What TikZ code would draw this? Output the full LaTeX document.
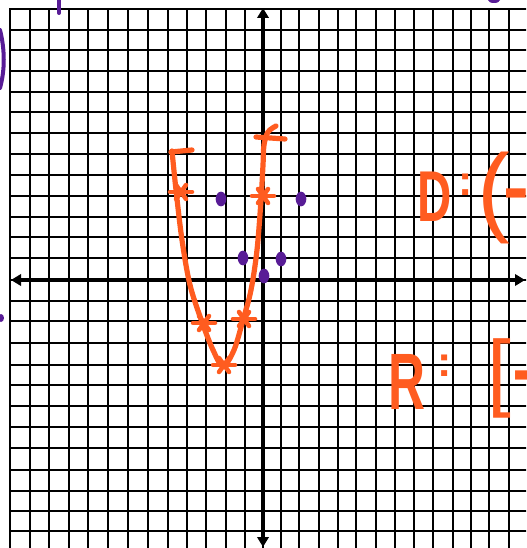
\documentclass[tikz,border=0pt]{standalone}
\usepackage{fontspec}
\usepackage{graphicx}
\setmainfont{Liberation Sans}
\usetikzlibrary{arrows.meta,shapes.geometric}
\definecolor{ink}{RGB}{255,92,32}
\definecolor{vio}{RGB}{88,28,150}
\begin{document}
\begin{tikzpicture}[x=0.75pt,y=-0.75pt,
  gridline/.style={line width=1.9pt,black,line cap=rect},
  axisline/.style={line width=3.2pt,black,{Triangle[length=7.5pt,width=8.5pt]}-{Triangle[length=7.5pt,width=8.5pt]}},
  curve/.style={ink,line width=3.9pt,line cap=round,line join=round},
  markstroke/.style={ink,line width=3.4pt,line cap=round},
  pdot/.style={ellipse,fill=vio,draw=none,inner sep=0pt,minimum width=8pt,minimum height=11pt},
  hand/.style={ink,inner sep=0pt,outer sep=0pt},
  edgeink/.style={vio,line width=3pt,line cap=round}]
\useasboundingbox (0,0) rectangle (526,548);
\fill[white] (0,0) rectangle (526,548);
\begin{scope}
\clip (0,0) rectangle (526,548);
% grid
\foreach \x in {10,30,49,69,88,108,128,148,168,187,206,226,245,263,281,299,319,338,356,376,395,414,433,453,471,489,509,528}
  \draw[gridline] (\x,9) -- (\x,560);
\foreach \y in {9,30,50,71,92,112,133,154,175,196,217,237,258,280,301,321,343,365,385,406,427,448,470,491,511,531,552}
  \draw[gridline] (10,\y) -- (540,\y);
% axes
\coordinate (ytop) at (263,8);
\coordinate (ybot) at (263,547);
\coordinate (xleft) at (11,280);
\coordinate (xright) at (525,280);
\draw[axisline] (ybot) -- (ytop);
\draw[axisline] (xleft) -- (xright);
% purple points
\node[pdot] (p1) at (221,199) {};
\node[pdot] (p2) at (301,199) {};
\node[pdot] (p3) at (243,258) {};
\node[pdot] (p4) at (281,259) {};
\node[pdot] (p5) at (264,276) {};
% parabola
\draw[curve] plot[smooth,tension=0.55] coordinates {(172,151) (176,190) (182,240) (190,285) (202,322) (213,350) (223,366) (234,350) (243,320) (251,290) (257,250) (261,200) (263,165) (264,145) (268,132) (276,126)};
\draw[curve] (171,152) -- (192,150);
\draw[curve] (256,137) -- (285,139);
% marks on the curve
\foreach \mx/\my in {181/192, 263/196, 204/323, 244/319, 224/365}{
  \draw[markstroke] (\mx-11,\my) -- (\mx+11,\my);
  \draw[markstroke] (\mx-5,\my-7) -- (\mx+5,\my+7);
  \draw[markstroke] (\mx+5,\my-7) -- (\mx-5,\my+7);
}
% domain and range text
\node[hand] (dD) at (435,197) {\fontsize{54}{54}\selectfont\bfseries\scalebox{0.66}[1]{D}};
\node[hand] (dC) at (466,185) {\fontsize{32}{32}\selectfont\bfseries :};
\node[hand] (dP) at (494,198) {\fontsize{74}{74}\selectfont (};
\node[hand,anchor=base west] (dM) at (503,214) {\fontsize{58}{58}\selectfont\bfseries -};
\node[hand] (rR) at (407,382) {\fontsize{60}{60}\selectfont\bfseries\scalebox{0.64}[1]{R}};
\node[hand] (rC) at (445,366) {\fontsize{32}{32}\selectfont\bfseries :};
\node[hand] (rB) at (499,378) {\fontsize{64}{64}\selectfont [};
\node[hand,anchor=base west] (rM) at (512,395) {\fontsize{58}{58}\selectfont\bfseries -};
% stray purple ink at the edges
\draw[edgeink] (59,0) -- (59,13);
\draw[edgeink] (0,30) .. controls (5,50) and (5,70) .. (0,88);
\fill[vio] (494,0) ellipse [x radius=6, y radius=3];
\fill[vio] (1,318) ellipse [x radius=3, y radius=4];
\end{scope}
\end{tikzpicture}
\end{document}
